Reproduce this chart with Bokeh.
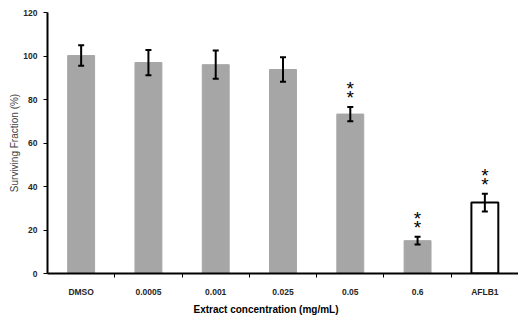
from bokeh.plotting import figure
from bokeh.models import ColumnDataSource, Whisker, FixedTicker, Range1d, TeeHead, Title
from bokeh.core.properties import value
from bokeh.embed import file_html
from bokeh.resources import INLINE

categories = ["DMSO", "0.0005", "0.001", "0.025", "0.05", "0.6", "AFLB1"]
means = [100.2, 97.0, 96.0, 93.8, 73.3, 15.1, 32.6]
errors = [4.7, 5.8, 6.5, 5.6, 3.3, 1.8, 4.1]
significant = [False, False, False, False, True, True, True]
fills = ["#a6a6a6"] * 6 + ["#ffffff"]
outlines = ["#a6a6a6"] * 6 + ["#000000"]
y_ticks = [0, 20, 40, 60, 80, 100, 120]

x = [i + 0.5 for i in range(len(categories))]
src = ColumnDataSource(dict(
    x=x, top=means,
    upper=[m + e for m, e in zip(means, errors)],
    lower=[m - e for m, e in zip(means, errors)],
    fill=fills, line=outlines,
    lw=[1 if c == "#a6a6a6" else 2 for c in outlines],
))
star_src = ColumnDataSource(dict(
    x=[xi for xi, s in zip(x, significant) if s],
    y=[m + e for m, e, s in zip(means, errors, significant) if s],
))

p = figure(width=518, height=316, output_backend="svg", toolbar_location=None,
           x_range=Range1d(0, len(categories)), y_range=Range1d(0, 120),
           min_border_left=47, min_border_right=0, min_border_top=12, min_border_bottom=40)
p.outline_line_color = None
p.grid.grid_line_color = None
p.background_fill_color = "white"
p.border_fill_color = "white"

p.vbar(x="x", top="top", bottom=0, width=0.4, fill_color="fill", line_color="line",
       line_width="lw", source=src)
w = Whisker(base="x", upper="upper", lower="lower", source=src, line_color="black", line_width=2,
            upper_head=TeeHead(size=6, line_width=2, line_color="black"),
            lower_head=TeeHead(size=6, line_width=2, line_color="black"),
            level="overlay")
p.add_layout(w)

for off in (-9, -18):
    p.text(x="x", y="y", text=value("*"), source=star_src, text_align="center",
           text_baseline="alphabetic", y_offset=off, text_font=value("Liberation Sans"),
           text_font_size="19px", text_color="black")

# axes
xa = p.xaxis[0]
xa.ticker = FixedTicker(ticks=x, minor_ticks=[1, 2, 3, 4, 5, 6])
xa.major_label_overrides = {xi: c for xi, c in zip(x, categories)}
xa.major_tick_out = 0
xa.major_tick_in = 0
xa.minor_tick_out = 4
xa.minor_tick_in = 0
xa.axis_line_width = 2
xa.axis_line_color = "black"
xa.minor_tick_line_color = "black"
xa.major_label_text_font = "Liberation Sans"
xa.major_label_text_font_style = "bold"
xa.major_label_text_font_size = "8.5px"
xa.major_label_text_color = "#262626"
xa.major_label_standoff = 9

p.add_layout(Title(text="Extract concentration (mg/mL)", align="left", offset=146,
                   text_font="Liberation Sans", text_font_style="bold",
                   text_font_size="10px", text_color="black", standoff=4), "below")

ya = p.yaxis[0]
ya.ticker = FixedTicker(ticks=y_ticks)
ya.minor_tick_line_color = None
ya.major_tick_out = 4
ya.major_tick_in = 0
ya.axis_line_width = 2
ya.axis_line_color = "black"
ya.major_tick_line_color = "black"
ya.major_label_text_font = "Liberation Sans"
ya.major_label_text_font_style = "bold"
ya.major_label_text_font_size = "8.5px"
ya.major_label_text_color = "#262626"
ya.major_label_standoff = 6
ya.axis_label = "Surviving Fraction (%)"
ya.axis_label_text_font = "Liberation Sans"
ya.axis_label_text_font_style = "normal"
ya.axis_label_text_font_size = "10px"
ya.axis_label_standoff = 0

open("out.html", "w").write(file_html(p, INLINE))
